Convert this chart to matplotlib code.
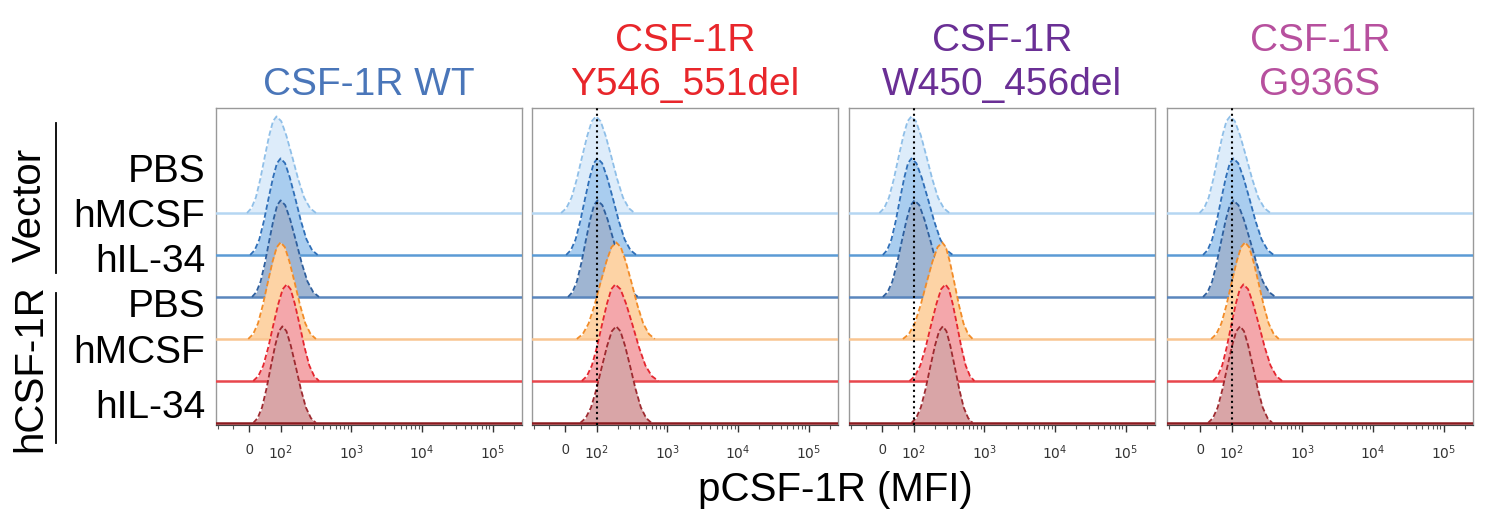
import matplotlib
matplotlib.use('Agg')
import matplotlib.pyplot as plt
from matplotlib.lines import Line2D
from matplotlib.ticker import FixedLocator, FixedFormatter

plt.rcParams['font.family'] = ['Liberation Sans', 'DejaVu Sans']

# row labels (top to bottom) and groups
conditions = ['PBS', 'hMCSF', 'hIL-34', 'PBS', 'hMCSF', 'hIL-34']
groups = ['Vector', 'hCSF-1R']

panel_titles = ['CSF-1R WT', 'CSF-1R\nY546_551del', 'CSF-1R\nW450_456del', 'CSF-1R\nG936S']
title_colors = ['#4a76b9', '#e8262b', '#6a2f95', '#b7509e']

# per panel, per row: left foot, peak and right foot of the histogram (MFI)
wt_left = [-7, 3, 9, -3, 13, 13]
wt_peak = [87, 100, 100, 100, 122, 106]
wt_right = [316, 334, 349, 316, 349, 316]

y546_left = [-13, 3, 9, 37, 53, 48]
y546_peak = [98, 103, 103, 189, 184, 189]
y546_right = [344, 364, 385, 665, 745, 597]

w450_left = [-9, 2, 2, 66, 87, 93]
w450_peak = [93, 93, 103, 254, 282, 259]
w450_right = [321, 358, 378, 684, 723, 684]

g936_left = [-2, 9, 9, 35, 41, 25]
g936_peak = [95, 106, 106, 155, 147, 132]
g936_right = [354, 394, 417, 465, 518, 377]

panels = [
    (wt_left, wt_peak, wt_right),
    (y546_left, y546_peak, y546_right),
    (w450_left, w450_peak, w450_right),
    (g936_left, g936_peak, g936_right),
]
show_ref = [False, True, True, True]

# normalised histogram outline (position -1..1 foot to foot)
prof_u = [-1, -0.85, -0.7, -0.55, -0.4, -0.25, -0.12, 0, 0.12, 0.25, 0.4, 0.55, 0.7, 0.85, 1]
prof_h = [0, 0.05, 0.16, 0.35, 0.58, 0.8, 0.95, 1, 0.95, 0.8, 0.58, 0.35, 0.16, 0.05, 0]

fill_colors = ['#ddecfa', '#a9cdef', '#9fb5d2', '#fdd3a5', '#f4a7ab', '#d9a5a7']
edge_colors = ['#8fbfe8', '#2f6fb8', '#2e5f9e', '#f28c28', '#e5262f', '#9e2a30']
base_colors = ['#b5d6f2', '#5b9bd5', '#5a86bd', '#f9c591', '#e8474d', '#8b1a1f']

xlo, xhi = -106, 2.6e5
peak_h = 2.3

fig = plt.figure(figsize=(14.93, 5.14), dpi=100)
W, H = 1493, 514
lefts = [216, 532, 849, 1167]

for p, (lefts_mfi, peaks, rights) in enumerate(panels):
    ax = fig.add_axes([lefts[p] / W, (H - 425) / H, 306 / W, 317 / H])
    ax.set_xscale('symlog', linthresh=100, linscale=0.4)
    ax.set_xlim(xlo, xhi)
    ax.set_ylim(-0.05, 7.5)
    tr = ax.xaxis.get_transform()
    inv = tr.inverted()
    for i in range(6):
        off = 5 - i
        tl, tp, trr = tr.transform([lefts_mfi[i], peaks[i], rights[i]])
        ts = [tp + u * (tp - tl) if u < 0 else tp + u * (trr - tp) for u in prof_u]
        xs = list(inv.transform(ts))
        ys = [off + h * peak_h for h in prof_h]
        z = 3 + i * 3
        ax.fill_between([xlo] + xs + [xhi], off, [off] + ys + [off],
                        color=fill_colors[i], lw=0, zorder=z)
        ax.plot([xlo, xhi], [off, off], color=base_colors[i], lw=1.8, zorder=z + 1)
        ax.plot(xs, ys, color=edge_colors[i], lw=1.3, ls=(0, (3, 1.5)), zorder=z + 2)
    if show_ref[p]:
        ax.axvline(100, color='black', ls=':', lw=1.5, zorder=50)

    ax.xaxis.set_major_locator(FixedLocator([0, 1e2, 1e3, 1e4, 1e5]))
    ax.xaxis.set_major_formatter(FixedFormatter(['0', '$10^2$', '$10^3$', '$10^4$', '$10^5$']))
    minors = [-100, -50, 50] + [m * 10 ** d for d in range(2, 6) for m in range(2, 10)]
    ax.xaxis.set_minor_locator(FixedLocator([v for v in minors if v < xhi]))
    ax.tick_params(axis='x', which='major', length=5, width=1, pad=8,
                   labelsize=10, labelcolor='#333333', color='#333333')
    ax.tick_params(axis='x', which='minor', length=3, width=0.8, color='#555555')
    ax.set_yticks([])
    for s in ['top', 'left', 'right']:
        ax.spines[s].set_color('#999999')
        ax.spines[s].set_linewidth(1)
    ax.spines['bottom'].set_color('#444444')
    ax.set_title(panel_titles[p], color=title_colors[p], fontsize=28, pad=9,
                 linespacing=1.3)

# row labels
label_y = [172, 217, 262, 307, 353, 408]
for txt, yc in zip(conditions, label_y):
    fig.text(205 / W, 1 - yc / H, txt, ha='right', va='center', fontsize=28)

# group labels with brackets
fig.text(30 / W, 1 - 205 / H, groups[0], rotation=90, ha='center', va='center', fontsize=29)
fig.text(30 / W, 1 - 368 / H, groups[1], rotation=90, ha='center', va='center', fontsize=29)
fig.add_artist(Line2D([56 / W, 56 / W], [1 - 123 / H, 1 - 273 / H], color='black', lw=1.3))
fig.add_artist(Line2D([56 / W, 56 / W], [1 - 293 / H, 1 - 443 / H], color='black', lw=1.3))

fig.text(835 / W, 1 - 490 / H, 'pCSF-1R (MFI)', ha='center', va='center', fontsize=29)

fig.savefig('out.png', dpi=100)
